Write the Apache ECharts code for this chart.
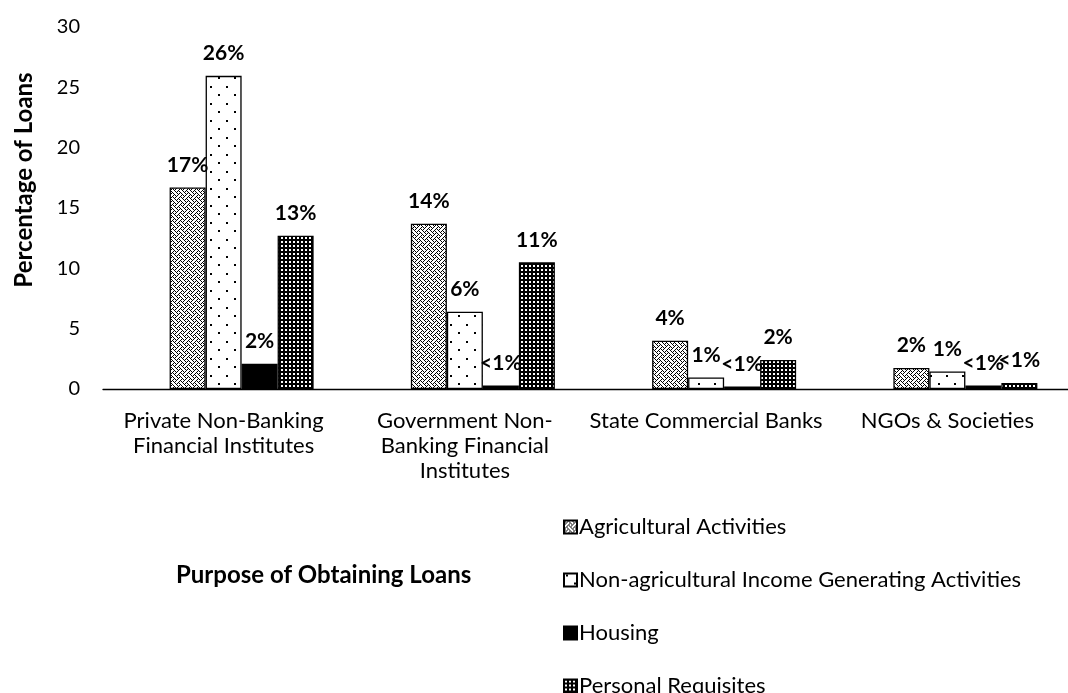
<!DOCTYPE html>
<html>
<head>
<meta charset="utf-8">
<script src="https://cdn.jsdelivr.net/npm/echarts@6/dist/echarts.min.js"></script>
<style>
html,body{margin:0;padding:0;background:#fff;}
#chart{width:1068px;height:693px;}
</style>
</head>
<body>
<div id="chart"></div>
<script>
// ---- data ----
var categories = [
  "Private Non-Banking\nFinancial Institutes",
  "Government Non-\nBanking Financial\nInstitutes",
  "State Commercial Banks",
  "NGOs & Societies"
];
var seriesNames = [
  "Agricultural Activities",
  "Non-agricultural Income Generating Activities",
  "Housing",
  "Personal Requisites"
];
var agricultural = [16.7, 13.7, 4.0, 1.75];
var nonAgricultural = [25.95, 6.4, 0.95, 1.45];
var housing = [2.1, 0.3, 0.2, 0.3];
var personal = [12.7, 10.5, 2.4, 0.5];
var agriculturalLabels = ["17%", "14%", "4%", "2%"];
var nonAgriculturalLabels = ["26%", "6%", "1%", "1%"];
var housingLabels = ["2%", "<1%", "<1%", "<1%"];
var personalLabels = ["13%", "11%", "2%", "<1%"];
var yTicks = [0, 5, 10, 15, 20, 25, 30];

// ---- patterns ----
function makePattern(rows, fg, bg) {
  var h = rows.length, w = rows[0].length;
  var c = document.createElement('canvas');
  c.width = w; c.height = h;
  var ctx = c.getContext('2d');
  ctx.fillStyle = bg; ctx.fillRect(0, 0, w, h);
  ctx.fillStyle = fg;
  for (var y = 0; y < h; y++) for (var x = 0; x < w; x++) {
    if (rows[y][x] === '1') ctx.fillRect(x, y, 1, 1);
  }
  return { image: c, repeat: 'repeat' };
}
var weave = makePattern([
  "10001000",
  "01010100",
  "00100010",
  "01000101",
  "10001000",
  "00010101",
  "00100010",
  "01010001"
], '#000', '#fff');
var dots = makePattern([
  "0000000000000000",
  "0011000000000000",
  "0011000000000000",
  "0000000000000000",
  "0000000000000000",
  "0000000000000000",
  "0000000000000000",
  "0000000000000000",
  "0000000000000000",
  "0000000000110000",
  "0000000000110000",
  "0000000000000000",
  "0000000000000000",
  "0000000000000000",
  "0000000000000000",
  "0000000000000000",
  "0000000000000000"
], '#000', '#fff');
var grid4 = makePattern([
  "0000",
  "0110",
  "0110",
  "0000"
], '#fff', '#000');

var FONT = 'Lato';
var valueSets = [agricultural, nonAgricultural, housing, personal];
var labelSets = [agriculturalLabels, nonAgriculturalLabels, housingLabels, personalLabels];
var fills = [weave, dots, '#000', grid4];

// an empty leading slot: the reference's bar groups sit right of each category centre
var series = [{
  name: 'spacer',
  type: 'bar',
  data: ['-', '-', '-', '-'],
  barWidth: 36,
  barGap: '0%',
  silent: true
}];
seriesNames.forEach(function (name, i) {
  series.push({
    name: name,
    type: 'bar',
    data: valueSets[i],
    barWidth: 36,
    barGap: '0%',
    itemStyle: { color: fills[i], borderColor: '#000', borderWidth: 1.3 },
    label: {
      show: true,
      position: 'top',
      distance: 12,
      fontFamily: FONT,
      fontWeight: 'bold',
      fontSize: 21,
      color: '#000',
      formatter: function (p) { return labelSets[i][p.dataIndex]; }
    }
  });
});

var chart = echarts.init(document.getElementById('chart'));
chart.setOption({
  animation: false,
  backgroundColor: '#fff',
  textStyle: { fontFamily: FONT },
  grid: { left: 103, right: -12, top: 27, bottom: 304, containLabel: false },
  legend: {
    data: seriesNames,
    orient: 'vertical',
    left: 558,
    top: 511,
    height: 300,
    itemWidth: 13,
    itemHeight: 13,
    itemGap: 31,
    icon: 'rect',
    textStyle: { fontFamily: FONT, fontSize: 22, lineHeight: 20, color: '#000', padding: [0, 0, 0, -3] }
  },
  xAxis: {
    type: 'category',
    data: categories,
    axisLine: { show: true, lineStyle: { color: '#000', width: 1.3 } },
    axisTick: { show: false },
    axisLabel: {
      interval: 0,
      margin: 19,
      fontFamily: FONT,
      fontSize: 22,
      lineHeight: 25,
      color: '#000'
    }
  },
  yAxis: {
    type: 'value',
    min: 0,
    max: 30,
    interval: 5,
    axisLine: { show: false },
    axisTick: { show: false },
    splitLine: { show: false },
    axisLabel: { margin: 23, fontFamily: FONT, fontSize: 20, color: '#000' }
  },
  graphic: [
    {
      type: 'text',
      x: 24, y: 180,
      rotation: Math.PI / 2,
      style: {
        text: 'Percentage of Loans',
        font: 'bold 24px ' + FONT,
        fill: '#000',
        align: 'center',
        verticalAlign: 'middle'
      }
    },
    {
      type: 'text',
      x: 176, y: 575,
      style: {
        text: 'Purpose of Obtaining Loans',
        font: 'bold 24px ' + FONT,
        fill: '#000',
        align: 'left',
        verticalAlign: 'middle'
      }
    }
  ],
  series: series
});
</script>
</body>
</html>
